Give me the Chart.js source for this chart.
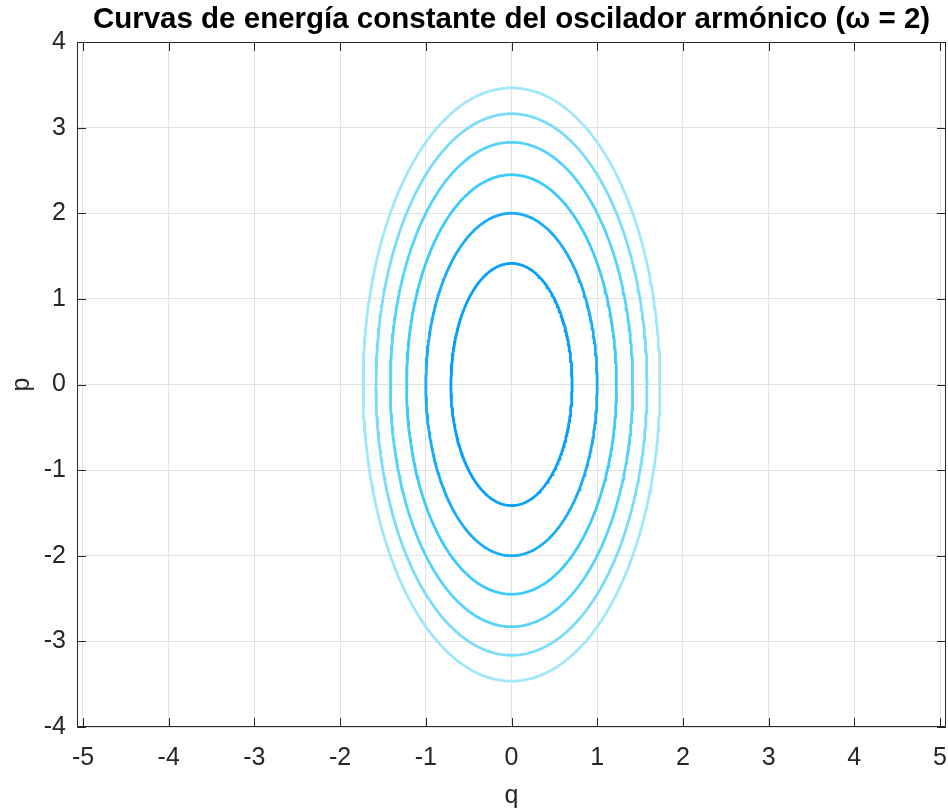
<!DOCTYPE html>
<html>
<head>
<meta charset="utf-8">
<script src="https://cdn.jsdelivr.net/npm/chart.js@4.4.1/dist/chart.umd.min.js"></script>
<style>
  html, body { margin: 0; padding: 0; background: #ffffff; }
  #wrap { width: 948px; height: 811px; }
</style>
</head>
<body>
<div id="wrap"><canvas id="c" width="948" height="811"></canvas></div>
<script>
// Harmonic oscillator H(q,p) = p^2/2 + omega^2 q^2/2
const omega = 2;
const energyLevels = [1, 2, 3, 4, 5, 6];
const levelColors = ['#069ffc', '#1aacf6', '#3ccbfb', '#55d3fb', '#7adcf9', '#a0e7f9'];
const xTicks = [-5, -4, -3, -2, -1, 0, 1, 2, 3, 4, 5];
const yTicks = [-4, -3, -2, -1, 0, 1, 2, 3, 4];
const xRange = [-5.07, 5.07];
const yRange = [-4, 4];

const AXIS = '#262626';
const FONT = "'Liberation Sans', Arial, Helvetica, sans-serif";

// Each constant-energy curve is an ellipse with semi-axes sqrt(2H)/omega and sqrt(2H)
function energyCurve(H) {
  const pts = [];
  const qa = Math.sqrt(2 * H) / omega;
  const pa = Math.sqrt(2 * H);
  for (let i = 0; i <= 360; i++) {
    const t = i * Math.PI / 180;
    pts.push({ x: qa * Math.cos(t), y: pa * Math.sin(t) });
  }
  return pts;
}

const datasets = energyLevels.map((H, i) => ({
  label: 'H = ' + H,
  data: energyCurve(H),
  showLine: true,
  borderColor: levelColors[i],
  borderWidth: 2.8,
  pointRadius: 0,
  fill: false,
  tension: 0
}));

// Box around the axes with inward tick marks on every side
const boxPlugin = {
  id: 'axesBox',
  afterDraw(chart) {
    const { ctx, chartArea: a, scales } = chart;
    ctx.save();
    ctx.strokeStyle = AXIS;
    ctx.lineWidth = 1;
    ctx.beginPath();
    ctx.rect(Math.round(a.left) + 0.5, Math.round(a.top) + 0.5,
             Math.round(a.right - a.left) - 1, Math.round(a.bottom - a.top) - 1);
    ctx.stroke();
    const len = 9;
    ctx.beginPath();
    xTicks.forEach(v => {
      const x = Math.round(scales.x.getPixelForValue(v)) + 0.5;
      ctx.moveTo(x, a.bottom); ctx.lineTo(x, a.bottom - len);
      ctx.moveTo(x, a.top); ctx.lineTo(x, a.top + len);
    });
    yTicks.forEach(v => {
      const y = Math.round(scales.y.getPixelForValue(v)) + 0.5;
      ctx.moveTo(a.left, y); ctx.lineTo(a.left + len, y);
      ctx.moveTo(a.right, y); ctx.lineTo(a.right - len, y);
    });
    ctx.stroke();
    ctx.restore();
  }
};

new Chart(document.getElementById('c'), {
  type: 'scatter',
  data: { datasets },
  plugins: [boxPlugin],
  options: {
    responsive: false,
    animation: false,
    layout: { padding: { top: 0, right: 2, bottom: 0, left: 0 } },
    plugins: {
      legend: { display: false },
      tooltip: { enabled: false },
      title: {
        display: true,
        fullSize: false,
        text: 'Curvas de energía constante del oscilador armónico (ω = 2)',
        color: '#000000',
        font: { family: FONT, size: 29.5, weight: 'bold', lineHeight: 1.2 },
        padding: { top: 2.5, bottom: 4.1 }
      }
    },
    scales: {
      x: {
        type: 'linear',
        min: xRange[0], max: xRange[1],
        afterBuildTicks: s => { s.ticks = xTicks.map(v => ({ value: v })); },
        afterFit: s => { s.height = 84; s.paddingLeft = 0; s.paddingRight = 0; },
        grid: { color: '#e3e3e3', lineWidth: 1, drawTicks: false },
        border: { display: false },
        ticks: { color: AXIS, font: { family: FONT, size: 25 }, padding: 16, maxRotation: 0, autoSkip: false },
        title: { display: true, text: 'q', color: AXIS, font: { family: FONT, size: 25 }, padding: { top: 0, bottom: 0 } }
      },
      y: {
        type: 'linear',
        min: yRange[0], max: yRange[1],
        afterBuildTicks: s => { s.ticks = yTicks.map(v => ({ value: v })); },
        afterFit: s => { s.width = 77; s.paddingTop = 0; s.paddingBottom = 0; },
        grid: { color: '#e3e3e3', lineWidth: 1, drawTicks: false },
        border: { display: false },
        ticks: { color: AXIS, font: { family: FONT, size: 25 }, padding: 11, autoSkip: false },
        title: { display: true, text: 'p', color: AXIS, font: { family: FONT, size: 25 }, padding: { top: 7, bottom: 0 } }
      }
    }
  }
});
</script>
</body>
</html>
